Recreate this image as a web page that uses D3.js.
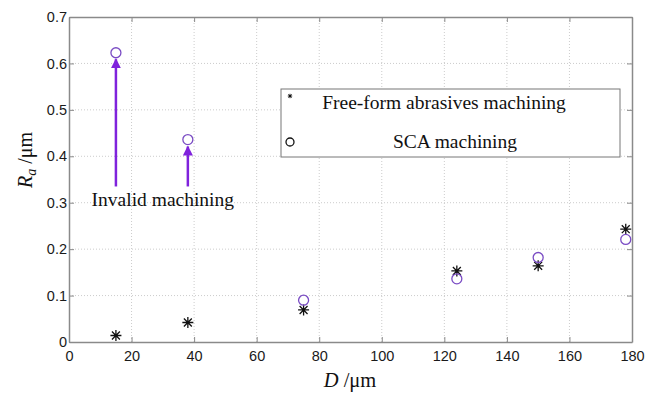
<!doctype html>
<html>
  <head>
    <meta charset='utf-8'>
    <script src='https://d3js.org/d3.v7.min.js'></script>
    <style>
      body { margin: 0; background: #fff; }
    </style>
  </head>
  <body>
    <svg width='656' height='394'></svg>
    <script>
      // data
      var diameters = [15, 38, 75, 124, 150, 178];
      var freeForm = [0.014, 0.042, 0.069, 0.153, 0.164, 0.243];
      var sca = [0.623, 0.436, 0.090, 0.136, 0.182, 0.221];
      var xTicks = [0, 20, 40, 60, 80, 100, 120, 140, 160, 180];
      var yTicks = [0, 0.1, 0.2, 0.3, 0.4, 0.5, 0.6, 0.7];
      var arrowX = [15, 38];
      var arrowFrom = [0.335, 0.335];
      var arrowTo = [0.609, 0.421];

      var svg = d3.select('svg'),
          margin = {top: 17, right: 24, bottom: 52, left: 69},
          width = +svg.attr('width') - margin.left - margin.right,
          height = +svg.attr('height') - margin.top - margin.bottom,
          g = svg.append('g').attr('transform', 'translate(' + margin.left + ',' + margin.top + ')');

      var x = d3.scaleLinear().domain([0, 180]).range([0, width]);
      var y = d3.scaleLinear().domain([0, 0.7]).range([height, 0]);

      var axisColor = '#8a8a8a';
      var serif = "'Liberation Serif', 'Times New Roman', serif";

      // grid
      g.append('g').selectAll('line')
        .data(xTicks.slice(1, -1))
        .enter().append('line')
        .attr('x1', function(d) { return x(d); })
        .attr('x2', function(d) { return x(d); })
        .attr('y1', 0).attr('y2', height)
        .attr('stroke', '#cccccc').attr('stroke-dasharray', '1,2');
      g.append('g').selectAll('line')
        .data(yTicks.slice(1, -1))
        .enter().append('line')
        .attr('y1', function(d) { return y(d); })
        .attr('y2', function(d) { return y(d); })
        .attr('x1', 0).attr('x2', width)
        .attr('stroke', '#cccccc').attr('stroke-dasharray', '1,2');

      // axes
      g.append('g')
        .attr('transform', 'translate(0,' + height + ')')
        .call(d3.axisBottom(x).tickValues(xTicks).tickSizeInner(-5).tickSizeOuter(0).tickPadding(9));
      var yAxis = g.append('g')
        .call(d3.axisLeft(y).tickValues(yTicks).tickSizeInner(-5).tickSizeOuter(0).tickPadding(2)
          .tickFormat(function(d) { return d === 0 ? '0' : d3.format('.1f')(d); }));
      g.append('g')
        .call(d3.axisTop(x).tickValues(xTicks).tickSizeInner(-5).tickSizeOuter(0).tickFormat(''));
      g.append('g')
        .attr('transform', 'translate(' + width + ',0)')
        .call(d3.axisRight(y).tickValues(yTicks).tickSizeInner(-5).tickSizeOuter(0).tickFormat(''));

      g.selectAll('.domain').attr('stroke', axisColor).attr('stroke-width', 1.5);
      g.selectAll('.tick line').attr('stroke', axisColor);
      g.selectAll('.tick text')
        .attr('fill', '#1a1a1a')
        .attr('font-family', "'Liberation Sans', Arial, sans-serif")
        .attr('font-size', 14.5);

      // arrows
      svg.append('defs').append('marker')
        .attr('id', 'head')
        .attr('viewBox', '0 0 10 10')
        .attr('refX', 9).attr('refY', 5)
        .attr('markerWidth', 4).attr('markerHeight', 5)
        .attr('orient', 'auto')
        .append('path')
        .attr('d', 'M0,0 L10,5 L0,10 Z')
        .attr('fill', '#7f22dc');

      g.append('g').selectAll('line')
        .data(arrowX)
        .enter().append('line')
        .attr('x1', function(d) { return x(d); })
        .attr('x2', function(d) { return x(d); })
        .attr('y1', function(d, i) { return y(arrowFrom[i]); })
        .attr('y2', function(d, i) { return y(arrowTo[i]); })
        .attr('stroke', '#7f22dc')
        .attr('stroke-width', 2.5)
        .attr('marker-end', 'url(#head)');

      g.append('text')
        .attr('x', x(30))
        .attr('y', y(0.293))
        .attr('text-anchor', 'middle')
        .attr('font-family', serif)
        .attr('font-size', 19.5)
        .attr('fill', '#111')
        .text('Invalid machining');

      // star marker path
      function star(r) {
        var d = 'M' + (-r) + ',0L' + r + ',0M0,' + (-r) + 'L0,' + r;
        var s = r * 0.72;
        d += 'M' + (-s) + ',' + (-s) + 'L' + s + ',' + s + 'M' + (-s) + ',' + s + 'L' + s + ',' + (-s);
        return d;
      }

      g.append('g').selectAll('path')
        .data(diameters)
        .enter().append('path')
        .attr('transform', function(d, i) { return 'translate(' + x(d) + ',' + y(freeForm[i]) + ')'; })
        .attr('d', star(5.5))
        .attr('stroke', '#111')
        .attr('stroke-width', 1.3)
        .attr('fill', 'none');

      g.append('g').selectAll('circle')
        .data(diameters)
        .enter().append('circle')
        .attr('cx', function(d) { return x(d); })
        .attr('cy', function(d, i) { return y(sca[i]); })
        .attr('r', 5)
        .attr('fill', 'none')
        .attr('stroke', '#7a4cc4')
        .attr('stroke-width', 1.3);

      // legend
      var legend = svg.append('g').attr('transform', 'translate(281,89)');
      legend.append('rect')
        .attr('width', 339).attr('height', 68)
        .attr('fill', '#fff')
        .attr('stroke', '#777').attr('stroke-width', 1);
      legend.append('path')
        .attr('transform', 'translate(9,7)')
        .attr('d', star(2.2))
        .attr('stroke', '#111').attr('stroke-width', 1).attr('fill', 'none');
      legend.append('circle')
        .attr('cx', 9).attr('cy', 53).attr('r', 4)
        .attr('fill', 'none').attr('stroke', '#111').attr('stroke-width', 1.3);
      var legendText = ['Free-form abrasives machining', 'SCA machining'];
      legend.selectAll('.lt')
        .data(legendText)
        .enter().append('text')
        .attr('x', function(d, i) { return i === 0 ? 163 : 174; })
        .attr('y', function(d, i) { return i === 0 ? 20 : 59; })
        .attr('text-anchor', 'middle')
        .attr('font-family', serif)
        .attr('font-size', 19.5)
        .attr('fill', '#111')
        .text(function(d) { return d; });

      // axis labels
      var xl = svg.append('text')
        .attr('x', 350).attr('y', 387)
        .attr('text-anchor', 'middle')
        .attr('font-family', serif)
        .attr('font-size', 20.5)
        .attr('fill', '#111');
      xl.append('tspan').attr('font-style', 'italic').text('D');
      xl.append('tspan').text(' /μm');

      var yl = svg.append('text')
        .attr('transform', 'translate(32,160) rotate(-90)')
        .attr('text-anchor', 'middle')
        .attr('font-family', serif)
        .attr('font-size', 20)
        .attr('fill', '#111');
      yl.append('tspan').attr('font-style', 'italic').text('R');
      yl.append('tspan').attr('font-style', 'italic').attr('font-size', 14).attr('dy', 4).text('a');
      yl.append('tspan').attr('dy', -4).text(' /μm');
    </script>
  </body>
</html>
